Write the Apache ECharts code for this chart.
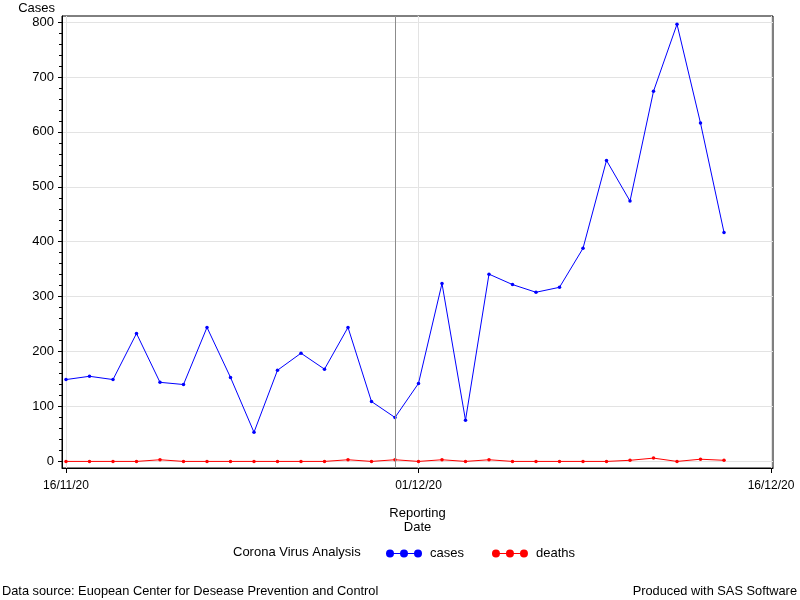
<!DOCTYPE html>
<html>
<head>
<meta charset="utf-8">
<script src="https://cdn.jsdelivr.net/npm/echarts@6/dist/echarts.min.js"></script>
<style>html,body{margin:0;padding:0;background:#fff}#c{width:800px;height:600px}</style>
</head>
<body>
<div id="c"></div>
<script>
const dates = ['16/11/20','17/11/20','18/11/20','19/11/20','20/11/20','21/11/20','22/11/20','23/11/20','24/11/20','25/11/20',
  '26/11/20','27/11/20','28/11/20','29/11/20','30/11/20','01/12/20','02/12/20','03/12/20','04/12/20','05/12/20',
  '06/12/20','07/12/20','08/12/20','09/12/20','10/12/20','11/12/20','12/12/20','13/12/20','14/12/20'];
const cases = [149,155,149,233,144,140,244,153,53,166,197,168,244,109,80,142,324,75,341,322,308,317,388,548,474,674,796,616,417];
const deaths = [0,0,0,0,3,0,0,0,0,0,0,0,3,0,3,0,3,0,3,0,0,0,0,0,2,6,0,4,2];
const xTickLabels = ['16/11/20','01/12/20','16/12/20'];
const yTickLabels = [0,100,200,300,400,500,600,700,800];
const refDate = '30/11/20';

function dayIndex(s){
  const p = s.split('/');
  const t = Date.UTC(2000 + +p[2], +p[1]-1, +p[0]);
  const p0 = dates[0].split('/');
  const t0 = Date.UTC(2000 + +p0[2], +p0[1]-1, +p0[0]);
  return Math.round((t - t0)/86400000);
}
const xTickVals = xTickLabels.map(dayIndex);
const minorVals = [];
for (let v = yTickLabels[0]; v <= yTickLabels[yTickLabels.length-1]; v += 20) minorVals.push(v);

const font = "'Liberation Sans', Arial, sans-serif";
const legendIcon = 'path://M4,3.4 L32,3.4 L32,4.6 L4,4.6 Z M0,4 A4,4 0 1 1 8,4 A4,4 0 1 1 0,4 Z M14,4 A4,4 0 1 1 22,4 A4,4 0 1 1 14,4 Z M28,4 A4,4 0 1 1 36,4 A4,4 0 1 1 28,4 Z';
const txt = {fontFamily: font, fontSize: 13, fontWeight: 'normal', color: '#000'};
const foot = {fontFamily: font, fontSize: 12.8, fontWeight: 'normal', color: '#000'};
const gridRect = {left: 62, right: 27, top: 16, bottom: 132, outerBoundsMode: 'none', containLabel: false};

const chart = echarts.init(document.getElementById('c'), null, {renderer:'canvas'});
chart.setOption({
  animation: false,
  backgroundColor: '#ffffff',
  textStyle: {fontFamily: font},
  title: [
    {text: 'Corona Virus Analysis', left: 228, top: 541, textStyle: txt},
    {text: 'Data source: Euopean Center for Desease Prevention and Control', left: 2, top: 585, padding: 0, textStyle: foot},
    {text: 'Produced with SAS Software', right: 3, top: 585, padding: 0, textStyle: foot}
  ],
  legend: {
    left: 381, top: 542,
    itemWidth: 36, itemHeight: 8, itemGap: 28,
    icon: legendIcon,
    textStyle: {fontFamily: font, fontSize: 13, color: '#000', padding: [0, 0, 0, 3]},
    data: ['cases','deaths']
  },
  grid: [
    Object.assign({show: true, borderColor: '#000', borderWidth: 1}, gridRect),
    Object.assign({show: false}, gridRect)
  ],
  xAxis: [{
    type: 'value', gridIndex: 0,
    min: -0.17, max: 30.085,
    name: 'Reporting\nDate', nameLocation: 'middle', nameGap: 38,
    nameTextStyle: {fontFamily: font, fontSize: 13, color: '#000', lineHeight: 14},
    axisLine: {onZero: false, lineStyle: {color: '#000', width: 1}},
    axisTick: {show: true, length: 5, customValues: xTickVals, lineStyle: {color: '#000'}},
    axisLabel: {customValues: xTickVals, margin: 12, fontFamily: font, fontSize: 12, color: '#000',
      formatter: function(v){ const i = xTickVals.indexOf(Math.round(v)); return i >= 0 ? xTickLabels[i] : ''; }},
    splitLine: {show: true, lineStyle: {color: '#e3e3e3', width: 1}}
  }, {
    type: 'value', gridIndex: 1, show: false,
    min: -0.17, max: 30.085
  }],
  yAxis: [{
    type: 'value', gridIndex: 0,
    position: 'left',
    min: -12, max: 811,
    name: 'Cases', nameLocation: 'end', nameGap: 1,
    nameTextStyle: {fontFamily: font, fontSize: 13, color: '#000', align: 'right', padding: [0, 7, 0, 0]},
    axisLine: {show: true, onZero: false, lineStyle: {color: '#000', width: 1}},
    axisTick: {show: true, length: 4, customValues: yTickLabels, lineStyle: {color: '#000'}},
    axisLabel: {customValues: yTickLabels, margin: 8, fontFamily: font, fontSize: 13, color: '#000'},
    splitLine: {show: true, lineStyle: {color: '#e3e3e3', width: 1}}
  }, {
    type: 'value', gridIndex: 1,
    position: 'left',
    min: -12, max: 811,
    axisLine: {show: false, onZero: false},
    axisTick: {show: true, length: 3, customValues: minorVals, lineStyle: {color: '#000'}},
    axisLabel: {show: false},
    splitLine: {show: false}
  }],
  series: [{
    name: 'cases', type: 'line', xAxisIndex: 0, yAxisIndex: 0,
    data: dates.map((d,i) => [dayIndex(d), cases[i]]),
    color: '#0000ff',
    lineStyle: {color: '#0000ff', width: 1},
    itemStyle: {color: '#0000ff'},
    symbol: 'circle', symbolSize: 3.5, showSymbol: true,
    markLine: {
      silent: true, symbol: ['none','none'], label: {show: false},
      lineStyle: {color: '#8c8c8c', type: 'solid', width: 1},
      data: [{xAxis: dayIndex(refDate)}]
    }
  }, {
    name: 'deaths', type: 'line', xAxisIndex: 0, yAxisIndex: 0,
    data: dates.map((d,i) => [dayIndex(d), deaths[i]]),
    color: '#ff0000',
    lineStyle: {color: '#ff0000', width: 1},
    itemStyle: {color: '#ff0000'},
    symbol: 'circle', symbolSize: 3.5, showSymbol: true
  }]
});
</script>
</body>
</html>
